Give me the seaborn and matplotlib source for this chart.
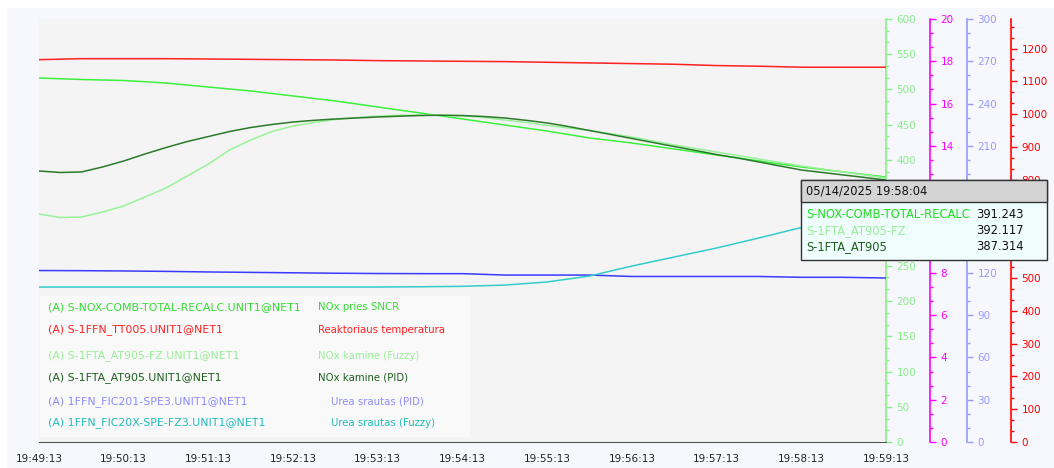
import numpy as np
import pandas as pd
import matplotlib
matplotlib.use("Agg")
import matplotlib.pyplot as plt
from matplotlib.patches import Rectangle
from matplotlib.ticker import MultipleLocator, AutoMinorLocator
import seaborn as sns

# seconds since 19:49:13
seconds = list(range(0, 601, 30))
seconds_fine = list(range(0, 601, 15))
tick_labels = ["19:49:13", "19:50:13", "19:51:13", "19:52:13", "19:53:13", "19:54:13",
               "19:55:13", "19:56:13", "19:57:13", "19:58:13", "19:59:13"]

# green axis (0-600)
nox_recalc = [516.3, 514.2, 512.8, 509.2, 503.5, 497.9, 490.8, 483.7, 475.2, 466.7, 458.2,
              449.6, 441.1, 431.2, 424.1, 415.6, 407.1, 398.6, 390.1, 383.0, 375.9]
at905_fz = [323.4, 318.4, 319.1, 326.2, 334.8, 347.5, 360.3, 377.3, 394.3, 414.2, 428.4,
            440.4, 448.2, 453.2, 457.4, 460.3, 462.4, 463.4, 463.8, 463.4, 462.4,
            460.3, 456.7, 453.2, 448.9, 445.4, 441.8, 437.3, 432.6, 427.0, 421.3,
            416.3, 411.3, 406.4, 401.4, 396.5, 391.5, 387.2, 383.0, 378.7, 374.5]
at905 = [384.4, 382.3, 383.0, 390.1, 398.6, 408.5, 417.7, 426.2, 433.3, 440.4, 446.1,
         450.4, 453.9, 456.3, 458.2, 459.6, 461.0, 462.1, 463.1, 463.5, 463.1,
         461.7, 459.6, 456.3, 452.5, 447.5, 441.8, 436.2, 430.5, 424.8, 419.1,
         413.5, 407.8, 402.8, 397.2, 391.5, 385.8, 382.3, 378.7, 375.2, 371.6]
# red axis
tt005 = [1166, 1169, 1169, 1169, 1168, 1167, 1166, 1165, 1163, 1162, 1161,
         1160, 1158, 1156, 1154, 1152, 1148, 1146, 1143, 1143, 1143]
# lavender axis (0-300)
fic201 = [121.6, 121.5, 121.3, 121.0, 120.6, 120.3, 120.0, 119.7, 119.5, 119.4, 119.4,
          118.4, 118.4, 118.4, 117.4, 117.4, 117.4, 117.4, 116.8, 116.8, 116.3]
fic20x = [109.9, 109.9, 109.9, 109.9, 109.9, 109.9, 109.9, 109.9, 109.9, 110.1, 110.4,
          111.3, 113.5, 117.7, 124.8, 131.2, 137.6, 144.7, 152.1, 160.3, 168.1]

legend_tags = ["(A) S-NOX-COMB-TOTAL-RECALC.UNIT1@NET1", "(A) S-1FFN_TT005.UNIT1@NET1",
               "(A) S-1FTA_AT905-FZ.UNIT1@NET1", "(A) S-1FTA_AT905.UNIT1@NET1",
               "(A) 1FFN_FIC201-SPE3.UNIT1@NET1", "(A) 1FFN_FIC20X-SPE-FZ3.UNIT1@NET1"]
legend_desc = ["NOx pries SNCR", "Reaktoriaus temperatura", "NOx kamine (Fuzzy)",
               "NOx kamine (PID)", "Urea srautas (PID)", "Urea srautas (Fuzzy)"]
legend_colors = ["#33dd33", "#ff2020", "#99ee99", "#1e5e1e", "#8c8cff", "#22bbbb"]

tip_time = "05/14/2025 19:58:04"
tip_names = ["S-NOX-COMB-TOTAL-RECALC", "S-1FTA_AT905-FZ", "S-1FTA_AT905"]
tip_values = ["391.243", "392.117", "387.314"]
tip_colors = ["#22dd22", "#99ee99", "#1e5e1e"]

sns.set_style("white")
plt.rcParams['font.family'] = ['DejaVu Sans']

W, H = 1054, 468
def px(x, y):
    return x / W, 1 - y / H

fig = plt.figure(figsize=(W / 100, H / 100), dpi=100)
fig.patch.set_facecolor("white")
fig.add_artist(Rectangle((7 / W, 0), 1, (H - 8) / H, transform=fig.transFigure,
                         facecolor="#f7f8fd", edgecolor="none", zorder=-10))

ax = fig.add_axes([39 / W, (H - 442) / H, 847 / W, 423 / H])
ax.set_facecolor("#f4f4f4")

sns.lineplot(x=seconds, y=nox_recalc, ax=ax, color="#3cf03c", linewidth=1.1)
sns.lineplot(x=seconds_fine, y=at905_fz, ax=ax, color="#99f299", linewidth=1.1)
sns.lineplot(x=seconds_fine, y=at905, ax=ax, color="#2a7a2a", linewidth=1.1)
ax.set_xlim(0, 600)
ax.set_ylim(0, 600)

ax_m = ax.twinx()
ax_b = ax.twinx()
ax_r = ax.twinx()
sns.lineplot(x=seconds, y=fic201, ax=ax_b, color="#3a3aff", linewidth=1.1)
sns.lineplot(x=seconds, y=fic20x, ax=ax_b, color="#33cccc", linewidth=1.1)
sns.lineplot(x=seconds, y=tt005, ax=ax_r, color="#ff2020", linewidth=1.1)
ax_m.set_ylim(0, 20)
ax_b.set_ylim(0, 300)

axes_spec = [(ax, "#88ee88", 1.0, 50), (ax_m, "#ff00ff", (930 - 39) / 847, 2),
             (ax_b, "#9999ff", (967 - 39) / 847, 30), (ax_r, "#ff0000", (1011 - 39) / 847, 100)]
for a, col, pos, step in axes_spec:
    for s in ["left", "top"]:
        a.spines[s].set_visible(False)
    if a is not ax:
        a.spines["bottom"].set_visible(False)
    a.spines["right"].set_position(("axes", pos))
    a.spines["right"].set_color(col)
    a.spines["right"].set_linewidth(1.2)
    a.yaxis.set_label_position("right")
    a.yaxis.tick_right()
    a.yaxis.set_major_locator(MultipleLocator(step))
    a.yaxis.set_minor_locator(AutoMinorLocator(3))
    a.tick_params(axis="y", which="major", colors=col, length=4.5, width=1, labelsize=7.5, pad=3)
    a.tick_params(axis="y", which="minor", colors=col, length=2.5, width=1)
    a.set_ylabel("")
    a.set_xlabel("")
ax_r.set_yticks(range(0, 1201, 100))
ax_r.yaxis.set_minor_locator(AutoMinorLocator(3))
ax_r.set_ylim(0, 1290)

ax.spines["bottom"].set_color("#555555")
ax.set_xticks(range(0, 601, 60))
ax.set_xticklabels(tick_labels)
ax.xaxis.set_minor_locator(MultipleLocator(12))
ax.tick_params(axis="x", which="major", colors="#555555", length=4.5, labelsize=7.5,
               labelcolor="#222222", pad=4)
ax.tick_params(axis="x", which="minor", colors="#555555", length=2.5)

# legend panel
fig.add_artist(Rectangle(px(40, 437), 430 / W, 141 / H, transform=fig.transFigure,
                         facecolor="#f9f9f9", edgecolor="none", zorder=5))
row_y = [307, 330, 356, 378, 402, 423]
for i, y in enumerate(row_y):
    fig.text(*px(48, y), legend_tags[i], color=legend_colors[i], fontsize=7.9,
             va="center", ha="left", zorder=6)
    dx = 331 if i >= 4 else 318
    fig.text(*px(dx, y), legend_desc[i], color=legend_colors[i], fontsize=7.3,
             va="center", ha="left", zorder=6)

# hover tooltip
fig.add_artist(Rectangle(px(801, 260), 246 / W, 80 / H, transform=fig.transFigure,
                         facecolor="#f0fdfd", edgecolor="#333333", linewidth=1, zorder=10))
fig.add_artist(Rectangle(px(801, 202), 246 / W, 22 / H, transform=fig.transFigure,
                         facecolor="#d4d4d4", edgecolor="#333333", linewidth=1, zorder=10))
fig.text(*px(806, 191), tip_time, color="#111111", fontsize=8.3, va="center", ha="left", zorder=11)
for i, y in enumerate([215, 231, 247]):
    fig.text(*px(806, y), tip_names[i], color=tip_colors[i], fontsize=8.3,
             va="center", ha="left", zorder=11)
    fig.text(*px(976, y), tip_values[i], color="#111111", fontsize=8.3,
             va="center", ha="left", zorder=11)

fig.savefig("out.png", dpi=100)
